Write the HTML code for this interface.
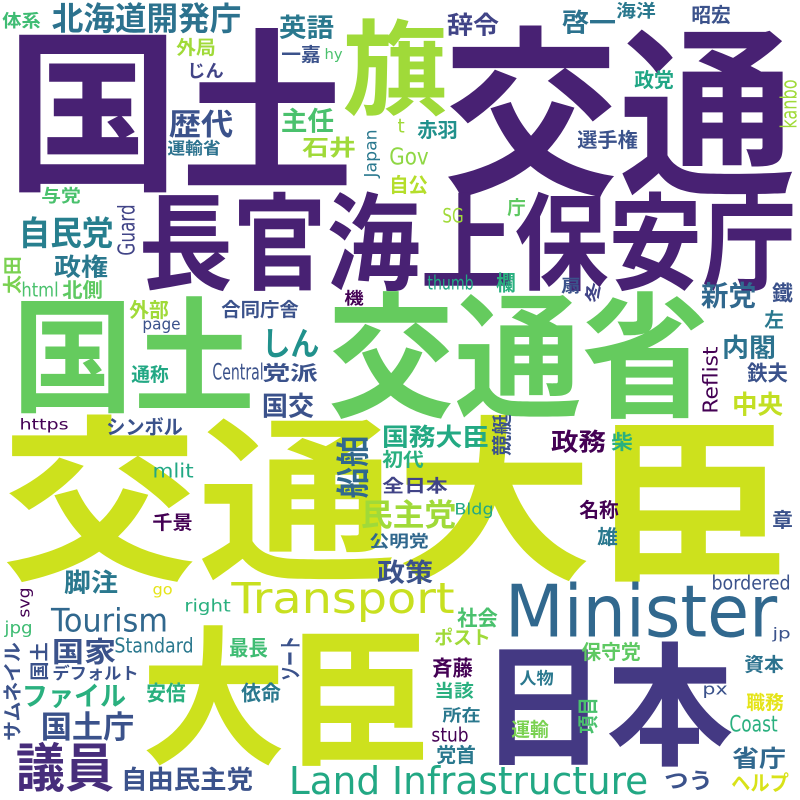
<!DOCTYPE html>
<html><head><meta charset="utf-8"><style>
html,body{margin:0;padding:0;background:#fff;width:800px;height:800px;overflow:hidden}
svg text{font-family:"Liberation Sans","Noto Sans CJK JP",sans-serif;font-weight:bold}
svg text.lat{font-family:"DejaVu Sans Condensed","DejaVu Sans","Liberation Sans",sans-serif;font-weight:normal}
</style></head><body>
<svg id="cloud" width="800" height="800" viewBox="0 0 800 800" xmlns="http://www.w3.org/2000/svg">
<rect width="800" height="800" fill="#fff"/>
</svg>
<script>
// word, x, top, width, height, color, kind (C=cjk, L=latin), rot (0 or -90)
const words = [
["国土",13,30,334,158,"#482173","C",0],
["交通",450,28,338,164,"#482173","C",0],
["旗",347,20,96,93,"#a0da39","C",0],
["長官海上保安庁",143,193,649,95,"#482173","C",0],
["国土",17,298,233,112,"#65cb5e","C",0],
["交通省",333,293,370,122,"#65cb5e","C",0],
["交通大臣",8,417,775,160,"#cde11d","C",0],
["大臣",147,627,278,135,"#cde11d","C",0],
["日本",485,643,243,120,"#443983","C",0],
["体系",3,12,37,16,"#3fbc73","C",0],
["北海道開発庁",53,3,187,29,"#2c728e","C",0],
["英語",280,15,53,23,"#2a788e","C",0],
["外局",177,38,38,17,"#a0da39","C",0],
["一嘉",282,45,38,17,"#3b528b","C",0],
["hy",325,48,17,14,"#4ac16d","L",0],
["じん",188,62,35,16,"#414487","C",0],
["歴代",170,110,62,27,"#3b528b","C",0],
["主任",282,108,51,24,"#4ac16d","C",0],
["石井",303,137,52,20,"#a0da39","C",0],
["運輸省",168,140,52,15,"#2c728e","C",0],
["Japan",363,130,17,47,"#2a788e","L",-90],
["Gov",390,147,38,18,"#8fd744","L",0],
["自公",390,175,37,18,"#b5de2b","C",0],
["与党",42,187,38,16,"#4ac16d","C",0],
["自民党",20,217,92,30,"#277f8e","C",0],
["Guard",117,205,18,50,"#414487","L",-90],
["政権",55,255,52,22,"#2a788e","C",0],
["太田",3,257,17,36,"#7ad151","C",-90],
["html",22,282,36,15,"#4ac16d","L",0],
["北側",63,280,39,18,"#5ec962","C",0],
["機",345,290,18,15,"#440154","C",0],
["外部",130,300,38,18,"#a0da39","C",0],
["page",143,317,37,16,"#3b528b","L",0],
["合同庁舎",222,300,76,17,"#3b528b","C",0],
["しん",263,328,55,29,"#21918c","C",0],
["通称",132,365,36,17,"#22a884","C",0],
["Central",213,363,50,17,"#3b528b","L",0],
["党派",263,363,54,18,"#3b528b","C",0],
["国交",263,393,50,24,"#3b528b","C",0],
["辞令",448,13,50,22,"#414487","C",0],
["啓一",563,10,52,23,"#2c728e","C",0],
["海洋",617,2,38,16,"#2a788e","C",0],
["昭宏",692,5,38,18,"#3b528b","C",0],
["政党",635,70,38,18,"#21a685","C",0],
["kanbo",780,80,17,48,"#a0da39","L",-90],
["赤羽",418,120,39,18,"#21918c","C",0],
["t",398,118,6,15,"#a0da39","L",0],
["選手権",578,130,59,18,"#3b528b","C",0],
["SG",443,208,20,15,"#a0da39","L",0],
["庁",508,198,17,17,"#5ec962","C",0],
["thumb",428,275,45,15,"#22a884","L",0],
["欄",497,273,18,19,"#2ab07f","C",0],
["扇",562,277,18,16,"#3b528b","C",0],
["冬",585,283,15,19,"#414487","C",-90],
["新党",702,282,53,25,"#31688e","C",0],
["鐵",773,283,19,19,"#3b528b","C",0],
["左",765,310,18,18,"#2a788e","C",0],
["内閣",723,335,52,23,"#2c728e","C",0],
["Reflist",702,347,16,66,"#440154","L",-90],
["鉄夫",748,363,39,19,"#3b528b","C",0],
["中央",733,392,49,23,"#c2df23","C",0],
["https",20,418,48,15,"#440154","L",0],
["シンボル",107,417,75,18,"#3b528b","C",0],
["船舶",337,437,30,60,"#31688e","C",-90],
["国務大臣",383,425,105,22,"#23a983","C",0],
["初代",383,450,40,17,"#2ab07f","C",0],
["mlit",153,463,40,15,"#22a884","L",0],
["全日本",383,477,64,16,"#414487","C",0],
["民主党",362,500,93,28,"#a0da39","C",0],
["公明党",370,533,58,15,"#31688e","C",0],
["千景",153,513,39,17,"#440154","C",0],
["政策",378,560,54,23,"#3b528b","C",0],
["競艇",492,415,18,40,"#3b528b","C",-90],
["政務",552,430,53,22,"#440154","C",0],
["柴",612,432,20,18,"#2ab07f","C",0],
["Bldg",455,502,38,16,"#22a884","L",0],
["名称",580,500,38,18,"#440154","C",0],
["雄",598,527,19,18,"#2a788e","C",0],
["章",773,510,19,18,"#3b528b","C",0],
["脚注",65,570,52,23,"#2a788e","C",0],
["go",153,583,19,15,"#e5e419","L",0],
["svg",17,588,16,29,"#440154","L",-90],
["Transport",233,580,220,42,"#c8e020","L",0],
["right",185,598,45,17,"#2ab07f","L",0],
["Tourism",52,607,115,25,"#31688e","L",0],
["jpg",5,620,27,17,"#3fbc73","L",0],
["Minister",507,582,268,56,"#31688e","L",0],
["bordered",712,575,78,15,"#3b528b","L",0],
["社会",458,608,39,19,"#4ac16d","C",0],
["ポスト",435,628,55,17,"#a0da39","C",0],
["jp",773,627,17,15,"#3b528b","L",0],
["国家",53,638,62,25,"#3b528b","C",0],
["Standard",115,637,78,16,"#2a788e","L",0],
["最長",230,638,37,19,"#3fbc73","C",0],
["ソート",280,637,20,43,"#3b528b","C",-90],
["サムネイル",3,643,17,97,"#3b528b","C",-90],
["国土",30,643,17,37,"#3b528b","C",-90],
["デフォルト",53,665,85,15,"#3b528b","C",0],
["安倍",147,683,38,19,"#2ab07f","C",0],
["依命",242,683,38,19,"#2a788e","C",0],
["ファイル",23,683,102,24,"#2ab07f","C",0],
["保守党",582,642,58,18,"#5ec962","C",0],
["斉藤",433,658,39,19,"#440154","C",0],
["人物",520,670,33,15,"#2a788e","C",0],
["資本",745,655,38,17,"#2c728e","C",0],
["px",703,682,24,16,"#3b528b","L",0],
["当該",435,682,38,16,"#2ab07f","C",0],
["職務",747,693,36,17,"#e5e419","C",0],
["国土庁",42,712,91,28,"#3b528b","C",0],
["所在",443,707,37,15,"#2a788e","C",0],
["項目",578,698,19,35,"#4ac16d","C",-90],
["運輸",512,720,36,17,"#7ad151","C",0],
["Coast",730,715,47,17,"#2ab07f","L",0],
["stub",432,727,36,15,"#440154","L",0],
["議員",18,743,94,47,"#472d7b","C",0],
["自由民主党",122,767,130,23,"#3b528b","C",0],
["党首",437,745,38,18,"#2a788e","C",0],
["省庁",733,747,52,21,"#31688e","C",0],
["Land Infrastructure",290,765,357,30,"#22a884","L",0],
["つう",665,770,47,20,"#3b528b","C",0],
["ヘルプ",732,773,56,19,"#d8e219","C",0]
];
const NS="http://www.w3.org/2000/svg";
const svg=document.getElementById("cloud");
words.forEach(function(wd,i){
  const [t,x,y,w,h,col,kind,rot]=wd;
  const g=document.createElementNS(NS,"g");
  
  
  let L,H;
  if(rot===-90){ g.setAttribute("transform","translate("+x+","+(y+h)+") rotate(-90)"); L=h; H=w; }
  else { g.setAttribute("transform","translate("+x+","+y+")"); L=w; H=h; }
  const el=document.createElementNS(NS,"text");
  
  
  let s,base,pad;
  if(kind==="C"){ s=H/0.9; base=H*0.93; pad=0.04*s; }
  else { el.setAttribute("class","lat"); s=H/0.78; base=H*0.97; pad=0.03*s;
    if(/[gjpqy]/.test(t)){ s=H/0.98; base=H*0.78; }
  }
  el.setAttribute("x",-pad);
  el.setAttribute("y",base);
  el.setAttribute("font-size",s.toFixed(1));
  el.setAttribute("fill",col);
  el.setAttribute("textLength",(L+2*pad).toFixed(1));
  el.setAttribute("lengthAdjust","spacingAndGlyphs");
  el.textContent=t;
  g.appendChild(el);
  svg.appendChild(g);
});
</script>
</body></html>
